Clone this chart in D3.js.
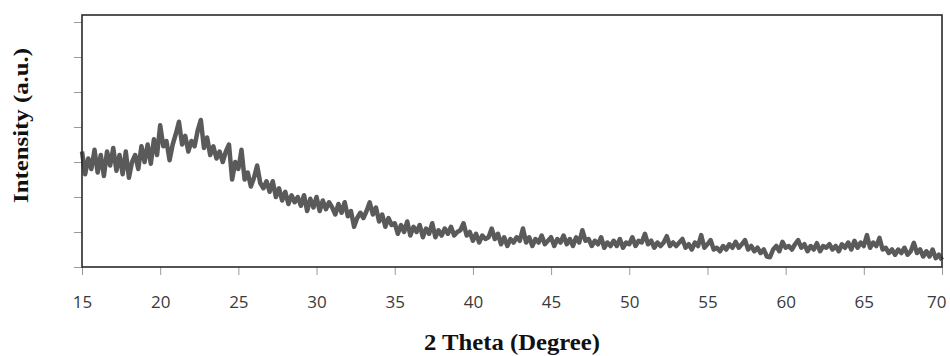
<!DOCTYPE html>
<html>
<head>
<meta charset="utf-8">
<script src="https://cdn.jsdelivr.net/npm/d3@7/dist/d3.min.js"></script>
<style>
  html, body { margin: 0; padding: 0; background: #fff; }
  svg { display: block; }
</style>
</head>
<body>
<svg id="chart" width="950" height="356"></svg>
<script>
// ---- data ----
const thetaStart = 15, thetaStep = 0.2;           // 2θ sampling grid, degrees
const intensity = [
  // 15.0 - 16.8
  330, 265, 310, 280, 335, 270, 320, 260, 330, 290,
  // 17.0 - 18.8
  340, 275, 320, 265, 330, 255, 300, 320, 280, 345,
  // 19.0 - 20.8
  300, 350, 295, 365, 320, 405, 345, 360, 305, 350,
  // 21.0 - 22.8
  380, 415, 350, 375, 330, 360, 345, 390, 420, 340,
  // 23.0 - 24.8
  370, 320, 345, 310, 330, 300, 330, 350, 250, 300,
  // 25.0 - 26.8
  280, 335, 250, 270, 230, 255, 290, 240, 225, 245,
  // 27.0 - 28.8
  215, 245, 200, 225, 190, 215, 180, 205, 185, 200,
  // 29.0 - 30.8
  175, 205, 160, 195, 170, 200, 160, 190, 165, 185,
  // 31.0 - 32.8
  170, 150, 180, 155, 185, 145, 160, 115, 140, 155,
  // 33.0 - 34.8
  140, 160, 185, 150, 170, 130, 150, 115, 140, 120,
  // 35.0 - 36.8
  125, 95, 120, 100, 130, 90, 115, 100, 120, 85,
  // 37.0 - 38.8
  110, 95, 125, 85, 105, 90, 110, 95, 115, 90,
  // 39.0 - 40.8
  100, 105, 125, 90, 100, 75, 95, 70, 90, 80,
  // 41.0 - 42.8
  85, 110, 80, 95, 65, 85, 60, 80, 70, 85,
  // 43.0 - 44.8
  75, 110, 70, 85, 60, 80, 70, 90, 65, 75,
  // 45.0 - 46.8
  85, 60, 80, 70, 90, 65, 80, 60, 85, 70,
  // 47.0 - 48.8
  105, 75, 80, 60, 75, 65, 85, 55, 70, 60,
  // 49.0 - 50.8
  75, 60, 80, 55, 70, 65, 85, 60, 75, 70,
  // 51.0 - 52.8
  95, 65, 75, 55, 70, 60, 70, 88, 60, 70,
  // 53.0 - 54.8
  60, 70, 80, 55, 65, 50, 70, 60, 91, 55,
  // 55.0 - 56.8
  65, 77, 50, 55, 45, 60, 50, 65, 55, 72,
  // 57.0 - 58.8
  55, 65, 77, 50, 60, 45, 55, 40, 50, 30,
  // 59.0 - 60.8
  28, 50, 60, 45, 72, 55, 60, 50, 65, 77,
  // 61.0 - 62.8
  55, 65, 45, 60, 50, 68, 45, 60, 55, 65,
  // 63.0 - 64.8
  50, 60, 45, 65, 55, 70, 50, 75, 55, 70,
  // 65.0 - 66.8
  60, 91, 55, 70, 60, 83, 50, 55, 40, 50,
  // 67.0 - 68.8
  35, 50, 40, 55, 35, 45, 69, 40, 50, 30,
  // 69.0 - 70.0
  45, 30, 50, 25, 35, 20
];
const xTicks = [15, 20, 25, 30, 35, 40, 45, 50, 55, 60, 65, 70];
const yTicks = [0, 100, 200, 300, 400, 500, 600, 700];
const xTitle = "2 Theta (Degree)";
const yTitle = "Intensity (a.u.)";

const data = intensity.map((v, i) => ({ x: +(thetaStart + i * thetaStep).toFixed(2), y: v }));

// ---- layout ----
const svg = d3.select("#chart");
const plot = { left: 82, right: 942, top: 15, bottom: 267 };

const x = d3.scaleLinear().domain([15, 70]).range([plot.left, plot.right]);
const y = d3.scaleLinear().domain([0, 720]).range([plot.bottom, plot.top]);

// ticks
const xAxis = d3.axisBottom(x).tickValues(xTicks).tickSize(8).tickPadding(21).tickFormat(d3.format("d"));
const gx = svg.append("g").attr("transform", `translate(0,${plot.bottom})`).call(xAxis);
gx.select(".domain").remove();
gx.selectAll(".tick line").attr("stroke", "#9a9a9a").attr("stroke-width", 1);
gx.selectAll(".tick text")
  .attr("fill", "#3a3a3a")
  .style("font-family", "'Open Sans', sans-serif")
  .style("font-size", "17px");
// the last label sits flush inside the right edge, as in the reference
gx.selectAll(".tick text").filter(d => d === 70).attr("text-anchor", "end").attr("dx", 4);

const yAxis = d3.axisLeft(y).tickValues(yTicks).tickSize(8).tickFormat("");
const gy = svg.append("g").attr("transform", `translate(${plot.left},0)`).call(yAxis);
gy.select(".domain").remove();
gy.selectAll(".tick line").attr("stroke", "#9a9a9a").attr("stroke-width", 1);

// data line
const line = d3.line().x(d => x(d.x)).y(d => y(d.y));
svg.append("path")
  .datum(data)
  .attr("d", line)
  .attr("fill", "none")
  .attr("stroke", "#5a5a5a")
  .attr("stroke-width", 4.5)
  .attr("stroke-linejoin", "round")
  .attr("stroke-linecap", "butt");

// frame
svg.append("rect")
  .attr("x", plot.left).attr("y", plot.top)
  .attr("width", plot.right - plot.left).attr("height", plot.bottom - plot.top)
  .attr("fill", "none")
  .attr("stroke", "#2a2a2a")
  .attr("stroke-width", 1.6);

// titles
svg.append("text")
  .attr("x", (plot.left + plot.right) / 2)
  .attr("y", 350)
  .attr("text-anchor", "middle")
  .attr("textLength", 176)
  .attr("lengthAdjust", "spacingAndGlyphs")
  .style("font-family", "'Liberation Serif', 'Times New Roman', serif")
  .style("font-weight", "bold")
  .style("font-size", "23px")
  .attr("fill", "#111")
  .text(xTitle);

svg.append("text")
  .attr("transform", "translate(28,125.5) rotate(-90)")
  .attr("text-anchor", "middle")
  .attr("textLength", 155)
  .attr("lengthAdjust", "spacingAndGlyphs")
  .style("font-family", "'Liberation Serif', 'Times New Roman', serif")
  .style("font-weight", "bold")
  .style("font-size", "20px")
  .attr("fill", "#111")
  .text(yTitle);
</script>
</body>
</html>
